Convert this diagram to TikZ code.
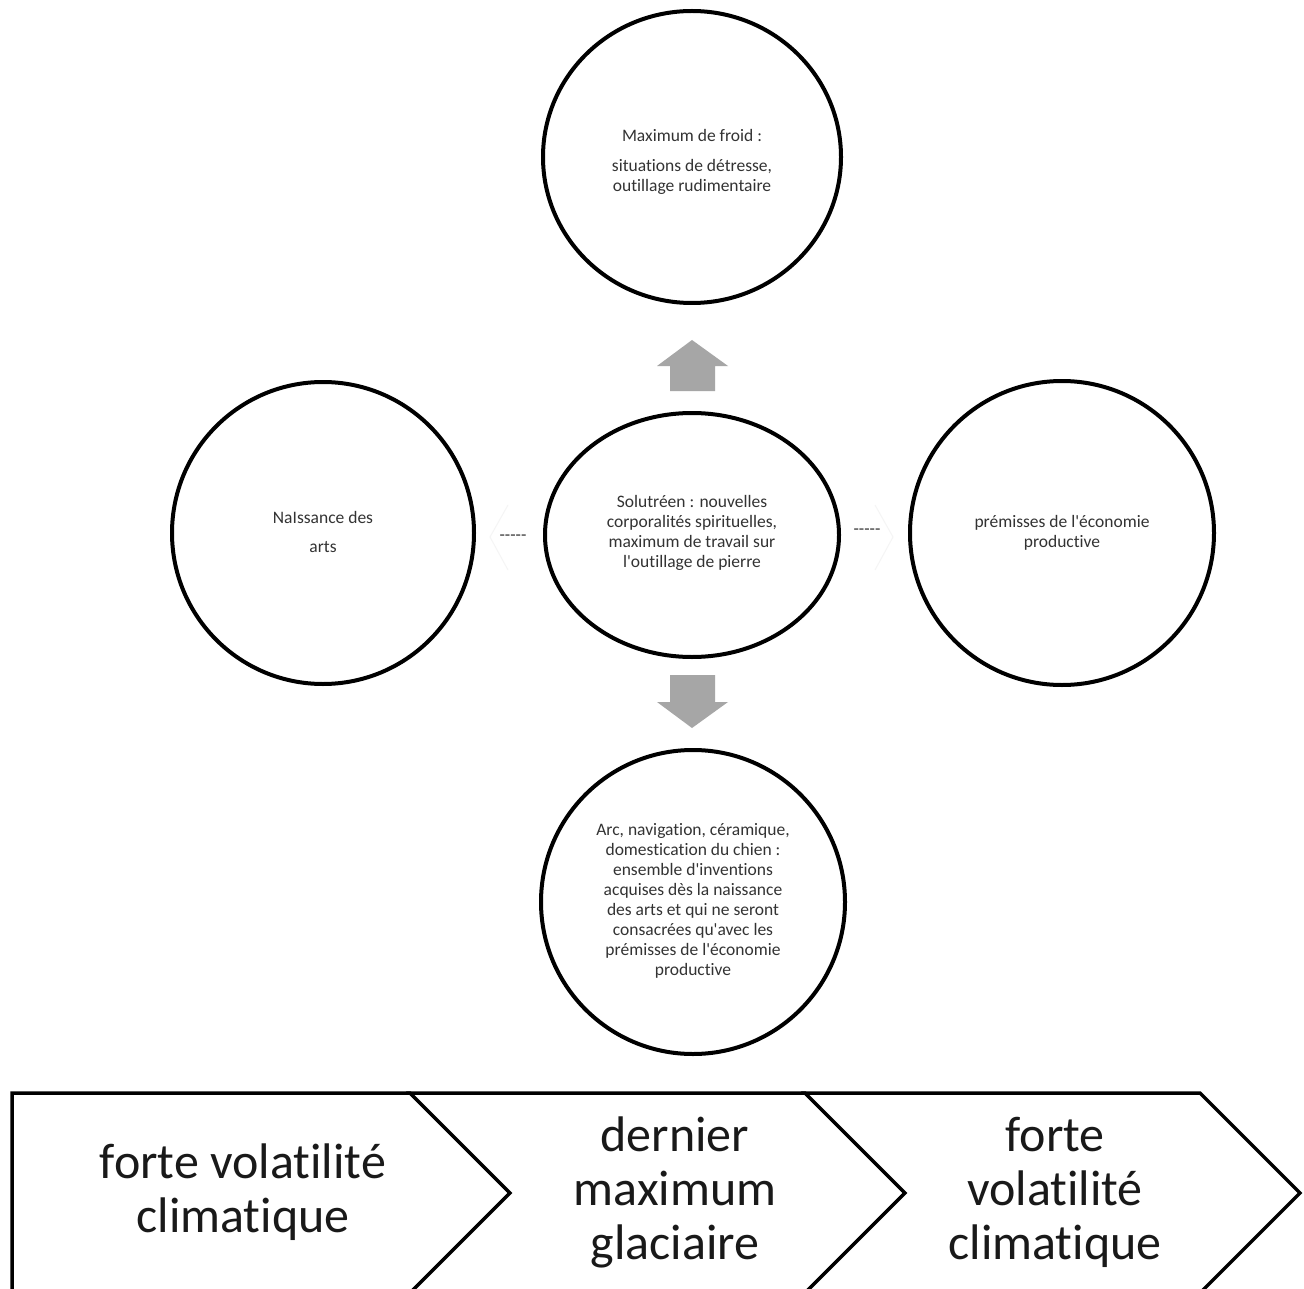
\documentclass[tikz,border=0pt]{standalone}
\usepackage{fontspec}
\setmainfont{Carlito}[Ligatures={TeXOff,NoCommon}]
\begin{document}
\begin{tikzpicture}[x=1pt,y=-1pt,
  bubble/.style={draw=black,line width=4pt,fill=white},
  small/.style={align=center,text=black!80,font=\fontsize{17.5}{20}\selectfont,inner sep=0pt},
  big/.style={align=center,text=black!90,font=\fontsize{50}{54}\selectfont,inner sep=0pt},
  blockarrow/.style={fill=black!35,draw=none},
  chev/.style={draw=black,line width=3.5pt,line join=miter,fill=white},
  faint/.style={draw=black!4,line width=1pt}]
\useasboundingbox (0,0) rectangle (1304,1289);
\clip (0,0) rectangle (1304,1289);
\fill[white] (0,0) rectangle (1304,1289);

% circles
\draw[bubble] (692,157) ellipse [x radius=149, y radius=146];
\draw[bubble] (323,533) circle [radius=151];
\draw[bubble] (692,535) ellipse [x radius=147, y radius=122];
\draw[bubble] (1062,533) circle [radius=152];
\draw[bubble] (693,902) circle [radius=152];

% texts
\node[small] (ttop) at (692,162) {Maximum de froid :\\[10pt]situations de détresse,\\outillage rudimentaire};
\node[small] (tleft) at (323,532) {NaIssance des\\[9pt]arts};
\node[small] (tmid) at (692,533) {Solutréen : nouvelles\\corporalités spirituelles,\\maximum de travail sur\\l'outillage de pierre};
\node[small] (tright) at (1062,533) {prémisses de l'économie\\productive};
\node[small] (tbot) at (693,901) {Arc, navigation, céramique,\\domestication du chien :\\ensemble d'inventions\\acquises dès la naissance\\des arts et qui ne seront\\consacrées qu'avec les\\prémisses de l'économie\\productive};

% faint chevrons behind dashes
\draw[faint] (508,505) -- (490,537) -- (508,570);
\draw[faint] (875,505) -- (893,537) -- (875,570);
\node[small] (dl) at (513,538) {-----};
\node[small] (dr) at (867,532) {-----};

% block arrows
\fill[blockarrow] (692,340) -- (728,366) -- (715,366) -- (715,391) -- (670,391) -- (670,366) -- (657,366) -- cycle;
\fill[blockarrow] (670,675) -- (715,675) -- (715,702) -- (728,702) -- (692,728) -- (657,702) -- (670,702) -- cycle;

% chevrons
\draw[chev] (12,1093) -- (410,1093) -- (510,1193) -- (410,1293) -- (12,1293) -- cycle;
\draw[chev] (410,1093) -- (805,1093) -- (905,1193) -- (805,1293) -- (410,1293) -- (510,1193) -- cycle;
\draw[chev] (805,1093) -- (1200,1093) -- (1300,1193) -- (1200,1293) -- (805,1293) -- (905,1193) -- cycle;

\node[big] (c1) at (243,1192) {forte volatilité\\climatique};
\node[big] (c2) at (675,1192) {dernier\\maximum\\glaciaire};
\node[big] (c3) at (1055,1192) {forte\\volatilité\\climatique};
\end{tikzpicture}
\end{document}
